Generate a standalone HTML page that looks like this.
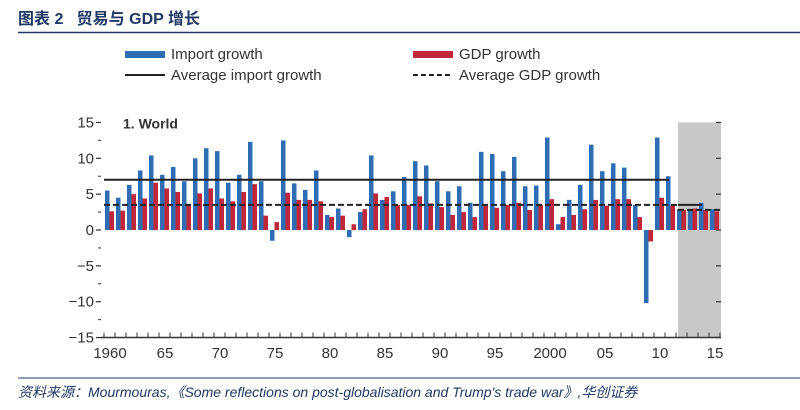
<!DOCTYPE html>
<html><head><meta charset="utf-8"><style>
body{margin:0;background:#fff;width:800px;height:405px;overflow:hidden;font-family:"Liberation Sans","Noto Sans CJK SC",sans-serif}
</style></head><body>
<svg id="c" width="800" height="405" xmlns="http://www.w3.org/2000/svg">
<text x="18" y="24" font-size="16" font-weight="bold" fill="#1f3864" font-family="Liberation Sans, Noto Sans CJK SC, sans-serif">图表 2 &#160;&#160;贸易与 GDP 增长</text>
<line x1="18" y1="32.5" x2="800" y2="32.5" stroke="#1f3864" stroke-width="1.5"/>
<g font-size="15" fill="#333">
<rect x="125" y="51" width="40" height="7" fill="#2e6db4"/>
<text x="171" y="59">Import growth</text>
<line x1="125" y1="75" x2="165" y2="75" stroke="#222" stroke-width="2"/>
<text x="171" y="80">Average import growth</text>
<rect x="413" y="51" width="40" height="7" fill="#c0283a"/>
<text x="459" y="59">GDP growth</text>
<line x1="413" y1="75" x2="453" y2="75" stroke="#222" stroke-width="2" stroke-dasharray="5,3"/>
<text x="459" y="80">Average GDP growth</text>
</g>
<g id="plot"></g>
<line x1="18" y1="378" x2="800" y2="378" stroke="#1f3864" stroke-width="1"/>
<text x="18" y="397" font-size="14" font-style="italic" fill="#1f3864">资料来源：Mourmouras,《Some reflections on post-globalisation and Trump's trade war》,华创证券</text>
</svg>
<script>
const years=[1960,1961,1962,1963,1964,1965,1966,1967,1968,1969,1970,1971,1972,1973,1974,1975,1976,1977,1978,1979,1980,1981,1982,1983,1984,1985,1986,1987,1988,1989,1990,1991,1992,1993,1994,1995,1996,1997,1998,1999,2000,2001,2002,2003,2004,2005,2006,2007,2008,2009,2010,2011,2012,2013,2014,2015];
const importGrowth=[5.5,4.5,6.3,8.3,10.4,7.7,8.8,6.8,10.0,11.4,11.0,6.6,7.7,12.3,6.8,-1.5,12.5,6.5,5.6,8.3,2.1,3.0,-1.0,2.5,10.4,4.2,5.4,7.4,9.6,9.0,6.8,5.4,6.1,3.8,10.9,10.6,8.2,10.2,6.1,6.2,12.9,0.8,4.2,6.3,11.9,8.2,9.3,8.7,3.5,-10.2,12.9,7.5,2.9,2.9,3.8,2.9];
const gdpGrowth=[2.6,2.7,5.0,4.4,6.6,5.8,5.3,3.6,5.1,5.8,4.4,4.0,5.3,6.4,2.0,1.1,5.2,4.2,4.2,4.0,1.8,2.0,0.8,2.9,5.1,4.6,3.5,3.5,4.7,3.7,3.2,2.1,2.5,1.8,3.5,3.1,3.5,3.8,2.8,3.5,4.3,1.8,2.1,2.9,4.2,3.4,4.3,4.3,1.8,-1.6,4.5,3.4,2.8,3.0,2.8,2.6];
const avgImport=[7.0,3.5];
const avgGdp=[3.5,2.8];
const yTicks=[-15,-10,-5,0,5,10,15];
const xLabels=["1960","65","70","75","80","85","90","95","2000","05","10","15"];
const xLabelYears=[1960,1965,1970,1975,1980,1985,1990,1995,2000,2005,2010,2015];
const shadeStart=2012;

const NS="http://www.w3.org/2000/svg";
const g=document.getElementById('plot');
const G=yr=>104+(yr-1960)*11.0;
const Y=v=>230-v*7.17;
const RIGHT=721;
function mk(t,a){const e=document.createElementNS(NS,t);for(const k in a)e.setAttribute(k,a[k]);g.appendChild(e);return e;}

let e=mk('rect',{x:G(shadeStart)+2,y:Y(15),width:RIGHT-(G(shadeStart)+2),height:Y(-15)-Y(15),fill:'#c8c8c8'});



yTicks.forEach(t=>{
  let l=mk('line',{x1:96,x2:101,y1:Y(t),y2:Y(t),stroke:'#333','stroke-width':1.2});
  
  
  let r=mk('line',{x1:RIGHT-5,x2:RIGHT,y1:Y(t),y2:Y(t),stroke:'#333','stroke-width':1.2});
  
  
  let tx=mk('text',{x:94,y:Y(t)+5,'text-anchor':'end','font-size':15,fill:'#333'});
  tx.textContent=(t<0?'\u2212'+(-t):String(t));
  
  
  if(t<15){let m=mk('line',{x1:98,x2:101,y1:Y(t+2.5),y2:Y(t+2.5),stroke:'#333','stroke-width':1});
  
  }
});
let tt=mk('text',{x:123,y:Y(15)+6,'font-size':14,'font-weight':'bold',fill:'#333'});
tt.textContent='1. World';



years.forEach((yr,i)=>{
  const x=G(yr);
  const vi=importGrowth[i],vg=gdpGrowth[i];
  let b=mk('rect',{x:x+1,y:Math.min(Y(vi),Y(0)),width:4.5,height:Math.abs(Y(vi)-Y(0)),fill:'#2e6db4'});
  
  
  let r=mk('rect',{x:x+5.5,y:Math.min(Y(vg),Y(0)),width:4.5,height:Math.abs(Y(vg)-Y(0)),fill:'#c0283a'});
  
  
});

const xs=G(1960), xm=G(shadeStart)+2, xe=G(2015)+11;
let a1=mk('line',{x1:xs,x2:G(2011)+4,y1:Y(avgImport[0]),y2:Y(avgImport[0]),stroke:'#222','stroke-width':2});


let a2=mk('line',{x1:xm,x2:G(2014)+4,y1:Y(avgImport[1]),y2:Y(avgImport[1]),stroke:'#222','stroke-width':2});


let a3=mk('line',{x1:xs,x2:xm,y1:Y(avgGdp[0]),y2:Y(avgGdp[0]),stroke:'#222','stroke-width':2,'stroke-dasharray':'6,3'});


let a4=mk('line',{x1:xm,x2:xe,y1:Y(avgGdp[1]),y2:Y(avgGdp[1]),stroke:'#222','stroke-width':2,'stroke-dasharray':'6,3'});



let ax=mk('line',{x1:101,x2:RIGHT,y1:Y(-15),y2:Y(-15),stroke:'#333','stroke-width':1.5});


years.concat([2016]).forEach(yr=>{
  let t=mk('line',{x1:G(yr),x2:G(yr),y1:Y(-15),y2:Y(-15)-5,stroke:'#333','stroke-width':1});
  
  
});
xLabels.forEach((lb,i)=>{
  let t=mk('text',{x:G(xLabelYears[i])+6,y:358,'text-anchor':'middle','font-size':15,fill:'#333'});
  t.textContent=lb;
  
  
});
</script>
</body></html>
